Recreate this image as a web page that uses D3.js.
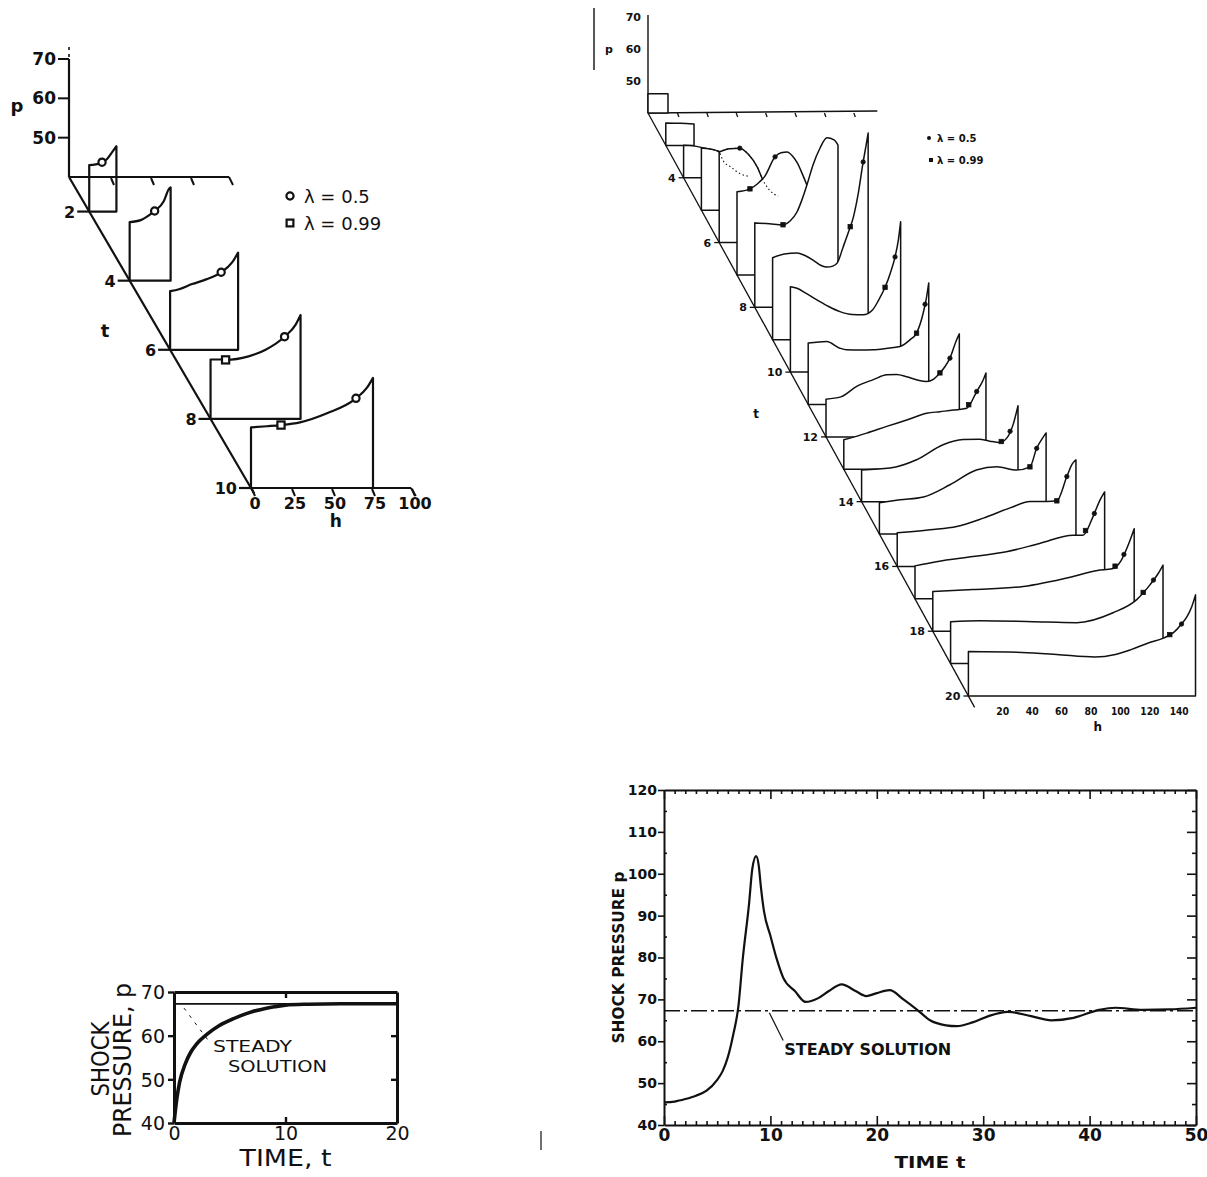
<!DOCTYPE html>
<html>
<head>
<meta charset="utf-8">
<script src="https://cdn.jsdelivr.net/npm/d3@7"></script>
<style>
	body { margin: 0; background: #fff; }
	text { font-family: "DejaVu Sans", sans-serif; fill: #111; }
</style>
</head>
<body>
<script>
// ---- panel A : stable case, profiles p(h) at t = 2..10
var tA = [2, 4, 6, 8, 10];
var profA = [
	[[0,51.8],[7,52.3],[11,53.3],[15,55.5],[17,56.6]],
	[[0,54.9],[6.9,55.4],[13.1,56.9],[15.6,57.7],[21.3,60.2],[24.4,63.2],[25.6,63.7]],
	[[0,54.9],[5.6,55.4],[13.75,56.7],[22.5,57.9],[31.9,59.7],[38.75,62.2],[42.5,64.7]],
	[[0,55.1],[6.9,55.1],[9.4,55.0],[23.75,55.9],[34.4,57.6],[46.25,60.9],[53.1,63.9],[56.25,66.4]],
	[[0,55.4],[10,55.7],[18.75,56],[30.6,56.7],[47.5,59],[65.6,62.8],[72.5,65.5],[76.25,68]]
];
var markA = [
	{t: 2, h: 8, lam: 0.5}, {t: 4, h: 15.6, lam: 0.5}, {t: 6, h: 31.9, lam: 0.5},
	{t: 8, h: 9.4, lam: 0.99}, {t: 8, h: 46.25, lam: 0.5},
	{t: 10, h: 18.75, lam: 0.99}, {t: 10, h: 65.6, lam: 0.5}
];
var pTicksA = [50, 60, 70],
	hTicksA = [0, 25, 50, 75, 100],
	hBackA = [25, 50, 75];

// ---- panel B : unstable case, profiles at t = 2..20
var tB = [2,3,4,5,6,7,8,9,10,11,12,13,14,15,16,17,18,19,20];
var profB = [
	[[0,46],[13.6,46]],
	[[0,47],[10,46.9],[19.2,46.7]],
	[[0,50.2],[6,50],[12,49.5],[18,48.8],[24.5,48.2]],
	[[0,59.4],[6,59.1],[12,58.2],[14.7,55.5],[20,53.5],[26,51.5],[33,50.5]],
	[[0,68.3],[7,69.3],[14,69.5],[20,67.5],[26,63.5],[29.8,59.5],[34,56.5],[40,54.5]],
	[[0,66],[8.8,66.9],[14,68.5],[19,70.9],[25.9,76.9],[30,78.2],[34,78.4],[38,77],[41,75],[44.5,71.5],[47.6,68]],
	[[0,66.4],[10,66.1],[19.2,65.8],[24,67],[28.7,69.8],[32,73.5],[35.5,78.3],[39.6,84.5],[44.4,89.8],[49.1,93],[53.9,92.3],[56.6,90.7]],
	[[0,65.6],[8,66.8],[16.6,67.1],[22,66.3],[27.5,64.9],[33,63.2],[37,62.7],[41,63],[44,64],[48,69],[51.5,73.5],[55,78.4],[58,85],[61.5,95.3],[63.5,100.5],[65,104.6]],
	[[0,66.7],[4.5,66.2],[11,64.5],[18,62.6],[26,60.5],[33.7,58.9],[42,58],[49.4,57.9],[56,59.5],[60,62.5],[64.4,66.5],[68,71],[71.2,76],[73.5,81.5],[75,87]],
	[[0,59.2],[12.5,59.7],[21.6,57.6],[26,57.1],[35,57],[44.3,57.1],[53,57.5],[62.4,58.1],[69.2,60.2],[73.7,62.3],[78.2,68.5],[80.5,73.5],[82,78]],
	[[0,51.8],[10,52.5],[20.9,55.8],[32.2,57.9],[41.3,59.4],[48,59.5],[54.9,58.8],[62,57.8],[68.5,57.3],[73,58],[77.5,60],[81,62],[84.3,64.6],[88.8,70.3],[90.7,72.2]],
	[[0,49.2],[15.6,51.3],[29.2,53.4],[42.8,55.4],[56.4,57.5],[65.4,58],[74.5,58.5],[83.6,59.1],[90.4,64.3],[94.9,68],[96.7,70.1]],
	[[0,49.9],[19.3,50.5],[37.4,53.1],[55.4,57.8],[69,59.4],[80,59.5],[87.2,58.9],[94,58.5],[99,60],[103,64],[106.4,70]],
	[[0,49.8],[14,50.7],[30,51.6],[48,55.4],[66,60],[80,61],[93.4,60],[102.4,61],[107,66.8],[111,70],[113.4,71.6]],
	[[0,50.5],[22.3,51.5],[40.5,52.5],[58.6,55.1],[76.8,58.3],[90.4,60.3],[101.8,60.3],[108.6,60.5],[115.4,68.1],[119,72],[121.6,73.3]],
	[[0,50.3],[14.6,51.6],[39.5,53.2],[62.1,54.7],[84.8,57.3],[107.5,59.9],[114.3,59.9],[121.1,65.7],[126,71],[129,73.4]],
	[[0,52.4],[27.4,53],[61.5,54],[95.4,57.1],[112,59],[122,59.5],[128,62],[133,67],[137,72]],
	[[0,53.1],[20,53.4],[65.4,53],[85.8,52.8],[110.5,55.9],[126.6,60],[135.6,64.6],[141,68],[144.5,70.8]],
	[[0,53.9],[36.5,53.6],[60,53],[86,52.2],[100,53],[110.6,54.5],[122,56.5],[132.7,58.1],[139.5,59.8],[145,62.5],[148.8,64.9],[152,68],[154.5,71.6]]
];
var markB = [
	{t: 6, h: 14, lam: 0.5}, {t: 7, h: 8.8, lam: 0.99}, {t: 7, h: 25.9, lam: 0.5},
	{t: 8, h: 19.2, lam: 0.99}, {t: 9, h: 52.8, lam: 0.99}, {t: 9, h: 61.6, lam: 0.5},
	{t: 10, h: 64.4, lam: 0.99}, {t: 10, h: 71.2, lam: 0.5}, {t: 11, h: 73.7, lam: 0.99}, {t: 11, h: 79.5, lam: 0.5},
	{t: 12, h: 77.5, lam: 0.99}, {t: 12, h: 84.3, lam: 0.5}, {t: 13, h: 85, lam: 0.99}, {t: 13, h: 90.4, lam: 0.5},
	{t: 14, h: 95, lam: 0.99}, {t: 14, h: 101, lam: 0.5}, {t: 15, h: 102.4, lam: 0.99}, {t: 15, h: 107, lam: 0.5},
	{t: 16, h: 108.6, lam: 0.99}, {t: 16, h: 115.4, lam: 0.5}, {t: 17, h: 116, lam: 0.99}, {t: 17, h: 122, lam: 0.5},
	{t: 18, h: 124, lam: 0.99}, {t: 18, h: 130, lam: 0.5}, {t: 19, h: 131, lam: 0.99}, {t: 19, h: 138, lam: 0.5},
	{t: 20, h: 137, lam: 0.99}, {t: 20, h: 145, lam: 0.5}
];
var dottedB = [5, 6],
	tLabB = [4, 6, 8, 10, 12, 14, 16, 18, 20],
	pTicksB = [50, 60, 70],
	hTicksB = [20, 40, 60, 80, 100, 120, 140];

// ---- panel C : shock pressure history, stable case
var tC = [0,0.25,0.5,1,1.5,2,3,4,5,6,7,8,9,10,12,15,20];
var pC = [40,45.5,49.3,53.5,56.2,58,60.4,62.2,63.5,64.6,65.5,66.1,66.6,67,67.2,67.3,67.3];

// ---- panel D : shock pressure history, unstable case
var tD = [0,1,2,3,4,5,5.5,6,6.5,7,7.4,8,8.3,8.66,8.9,9.1,9.4,10,10.6,11.2,12.3,13.3,14.5,15.5,16.7,18,19,20,21.2,22.5,23.8,25,26.5,27.5,29,30.5,32.3,34.5,36.4,38.5,40.9,42.4,45,47.5,50];
var pD = [45.4,45.6,46.2,47,48.2,50.8,52.8,56.2,61.5,68.5,79.6,93,101.2,104.2,102,97,91,85.2,79.6,75.2,72,69.4,70.3,72,73.6,72,70.8,71.5,72.2,70,67.5,65,63.8,63.6,64.5,66,67,66,65,65.6,67.5,68,67.5,67.6,68];
var steadyP = 67.3;

var svg = d3.select("body")
	.append("svg")
	.attr("width", 1207)
	.attr("height", 1177);

svg.append("rect").attr("width", 1207).attr("height", 1177).attr("fill", "#fff");

function seg(g, x1, y1, x2, y2, w) {
	return g.append("line")
		.attr("x1", x1).attr("y1", y1).attr("x2", x2).attr("y2", y2)
		.attr("stroke", "#111").attr("stroke-width", w || 1.5);
}

function label(g, x, y, s, size, anchor, weight) {
	return g.append("text")
		.attr("x", x).attr("y", y)
		.attr("font-size", size)
		.attr("font-weight", weight || "bold")
		.attr("text-anchor", anchor || "middle")
		.text(s);
}

// polygon of one slice: left wall, profile curve, shock wall, baseline
function slicePath(x0, y0, pr, hs, ps) {
	var pts = pr.map(function(d) { return [x0 + hs(d[0]), y0 + ps(d[1])]; });
	var c = d3.line().curve(d3.curveMonotoneX)(pts);
	var last = pts[pts.length - 1];
	return "M" + x0 + "," + y0 + "L" + c.slice(1) + "L" + last[0] + "," + y0 + "Z";
}

function profLine(x0, y0, pr, hs, ps) {
	return d3.line().curve(d3.curveMonotoneX)(pr.map(function(d) { return [x0 + hs(d[0]), y0 + ps(d[1])]; }));
}

function pAt(pr, h) {
	return d3.scaleLinear().domain(pr.map(function(d) { return d[0]; })).range(pr.map(function(d) { return d[1]; }))(h);
}

function marker(g, x, y, lam, r, fill, sw) {
	if (lam == 0.5) {
		g.append("circle").attr("cx", x).attr("cy", y).attr("r", r)
			.attr("fill", fill).attr("stroke", "#111").attr("stroke-width", sw);
	} else {
		g.append("rect").attr("x", x - r).attr("y", y - r).attr("width", 2 * r).attr("height", 2 * r)
			.attr("fill", fill).attr("stroke", "#111").attr("stroke-width", sw);
	}
}

/* ================= panel A ================= */
var gA = svg.append("g").attr("class", "stable-waterfall");

var txA = d3.scaleLinear().domain([1, 10]).range([69, 251]),
	tyA = d3.scaleLinear().domain([1, 10]).range([177, 488]),
	hA = d3.scaleLinear().domain([0, 100]).range([0, 160]),
	pA = d3.scaleLinear().domain([40, 70]).range([0, -118]);

var oxA = txA(1), oyA = tyA(1);

// p axis
seg(gA, oxA, oyA, oxA, oyA + pA(70), 2.2);
seg(gA, oxA, oyA + pA(70.5), oxA, oyA + pA(73.5), 1.6).attr("stroke-dasharray", "3,4");
pTicksA.forEach(function(v) {
	seg(gA, oxA - 11, oyA + pA(v), oxA, oyA + pA(v), 2);
	label(gA, oxA - 13, oyA + pA(v) + 6, v, 17, "end");
});
label(gA, 17, oyA + pA(58) + 6, "p", 18);

// back h axis
seg(gA, oxA, oyA, oxA + hA(100), oyA, 2.2);
seg(gA, oxA + hA(100), oyA, oxA + hA(102.5), oyA + 8, 2);
hBackA.forEach(function(v) {
	seg(gA, oxA + hA(v) + 2, oyA + 1, oxA + hA(v) + 5, oyA + 8, 2);
});

// diagonal t axis
seg(gA, oxA, oyA, txA(10.15), tyA(10.15), 2.2);
tA.forEach(function(t) {
	seg(gA, txA(t) - 12, tyA(t), txA(t), tyA(t), 2.2);
	label(gA, txA(t) - 14, tyA(t) + 6, t, 16, "end");
});
label(gA, 105, 337, "t", 18);

// front h axis at t = 10
var fxA = txA(10), fyA = tyA(10);
seg(gA, fxA, fyA, fxA + hA(100), fyA, 2.2);
seg(gA, fxA + hA(100), fyA, fxA + hA(103), fyA + 8, 2);
hTicksA.forEach(function(v) {
	seg(gA, fxA + hA(v) + 1, fyA + 1, fxA + hA(v) + 4, fyA + 8, 2);
	label(gA, fxA + hA(v) + 4, fyA + 21, v, 16);
});
label(gA, fxA + hA(53), fyA + 39, "h", 17);

// slices
tA.forEach(function(t, i) {
	gA.append("path")
		.attr("d", slicePath(txA(t), tyA(t), profA[i], hA, pA))
		.attr("fill", "none")
		.attr("stroke", "#111")
		.attr("stroke-width", 2.2)
		.attr("stroke-linejoin", "round");
});
markA.forEach(function(m) {
	var pr = profA[tA.indexOf(m.t)];
	marker(gA, txA(m.t) + hA(m.h), tyA(m.t) + pA(pAt(pr, m.h)), m.lam, 3.6, "#fff", 2.2);
});

// legend
marker(gA, 290, 196, 0.5, 3.6, "#fff", 2.2);
label(gA, 304, 203, "λ = 0.5", 18, "start", "normal");
marker(gA, 290, 223, 0.99, 3.4, "#fff", 2.2);
label(gA, 304, 230, "λ = 0.99", 18, "start", "normal");

/* ================= panel B ================= */
var gB = svg.append("g").attr("class", "unstable-waterfall");

var txB = d3.scaleLinear().domain([2, 20]).range([648, 968.4]),
	tyB = d3.scaleLinear().domain([2, 20]).range([113, 696]),
	hB = d3.scaleLinear().domain([0, 100]).range([0, 147]),
	pB = d3.scaleLinear().domain([40, 70]).range([0, -96]);

var oxB = txB(2), oyB = tyB(2);

// scan edge on the left of the panel
seg(gB, 594, 8, 594, 70, 1.4);

seg(gB, oxB, oyB, oxB, oyB + pB(70.6), 1.4);
pTicksB.forEach(function(v) {
	label(gB, oxB - 7, oyB + pB(v) + 4, v, 11, "end");
});
label(gB, 609, oyB + pB(60) + 4, "p", 11);

seg(gB, oxB, oyB, oxB + hB(156), oyB - 2, 1.6);
hTicksB.forEach(function(v) {
	seg(gB, oxB + hB(v), oyB, oxB + hB(v) + 1.5, oyB + 4, 1.3);
});

tB.forEach(function(t, i) {
	var x0 = txB(t), y0 = tyB(t), pr = profB[i];
	gB.append("path")
		.attr("d", slicePath(x0, y0, pr, hB, pB))
		.attr("fill", "#fff")
		.attr("stroke", "#111")
		.attr("stroke-width", 1.5)
		.attr("stroke-linejoin", "round");
	markB.filter(function(m) { return m.t == t; }).forEach(function(m) {
		marker(gB, x0 + hB(m.h), y0 + pB(pAt(pr, m.h)), m.lam, 2.2, "#111", 0.8);
	});
});

// hidden parts of the t = 5, 6 profiles, dotted
dottedB.forEach(function(t) {
	var i = tB.indexOf(t);
	gB.append("path")
		.attr("d", profLine(txB(t), tyB(t), profB[i], hB, pB))
		.attr("fill", "none")
		.attr("stroke", "#111")
		.attr("stroke-width", 1.1)
		.attr("stroke-dasharray", "1.5,2.5");
});

seg(gB, oxB, oyB, txB(20.35), tyB(20.35), 1.3);
tLabB.forEach(function(t) {
	seg(gB, txB(t) - 5, tyB(t), txB(t), tyB(t), 1.3);
	label(gB, txB(t) - 8, tyB(t) + 4, t, 11, "end");
});
label(gB, 756, 418, "t", 12);

var fxB = txB(20), fyB = tyB(20);
hTicksB.forEach(function(v) {
	label(gB, fxB + hB(v) + 5, fyB + 19, v, 11).attr("textLength", v < 100 ? 13 : 19).attr("lengthAdjust", "spacingAndGlyphs");
});
label(gB, fxB + hB(88), fyB + 35, "h", 12);

gB.append("circle").attr("cx", 929).attr("cy", 138).attr("r", 2).attr("fill", "#111");
label(gB, 937, 142, "λ = 0.5", 10, "start");
gB.append("rect").attr("x", 929).attr("y", 158).attr("width", 4).attr("height", 4).attr("fill", "#111");
label(gB, 937, 164, "λ = 0.99", 10, "start");

/* ================= panel C ================= */
var gC = svg.append("g").attr("class", "history-stable");

var xC = d3.scaleLinear().domain([0, 20]).range([174, 397]),
	yC = d3.scaleLinear().domain([40, 70]).range([1123, 992]);

function plain(g, w) {
	g.selectAll("path.domain").attr("stroke", "#111").attr("stroke-width", w);
	g.selectAll(".tick line").attr("stroke", "#111").attr("stroke-width", w * 0.8);
	g.selectAll("text").attr("fill", "#111").attr("font-family", "DejaVu Sans, sans-serif");
}

gC.append("g")
	.attr("transform", "translate(0," + yC(40) + ")")
	.call(d3.axisBottom(xC).tickValues([0, 10, 20]).tickSizeInner(-6).tickSizeOuter(0).tickPadding(3))
	.call(plain, 3)
	.selectAll("text").attr("font-size", 19);
gC.append("g")
	.attr("transform", "translate(0," + yC(70) + ")")
	.call(d3.axisTop(xC).tickValues([10]).tickSizeInner(-6).tickSizeOuter(0).tickFormat(""))
	.call(plain, 3);
gC.append("g")
	.attr("transform", "translate(" + xC(0) + ",0)")
	.call(d3.axisLeft(yC).tickValues([40, 50, 60, 70]).tickSizeInner(6).tickSizeOuter(0).tickPadding(3))
	.call(plain, 3)
	.selectAll("text").attr("font-size", 19).attr("dy", "0.36em");
gC.append("g")
	.attr("transform", "translate(" + xC(20) + ",0)")
	.call(d3.axisRight(yC).tickValues([50, 60]).tickSizeInner(-6).tickSizeOuter(0).tickFormat(""))
	.call(plain, 3);

seg(gC, xC(0), yC(steadyP), xC(20), yC(steadyP), 1.8);
gC.append("path")
	.datum(d3.zip(tC, pC))
	.attr("d", d3.line().curve(d3.curveMonotoneX).x(function(d) { return xC(d[0]); }).y(function(d) { return yC(d[1]); }))
	.attr("fill", "none")
	.attr("stroke", "#111")
	.attr("stroke-width", 3.6);

seg(gC, xC(0.9), yC(66.3), xC(3.1), yC(58.8), 1).attr("stroke-dasharray", "3,6");
label(gC, 213, 1052, "STEADY", 16, "start", "normal").attr("textLength", 79).attr("lengthAdjust", "spacingAndGlyphs");
label(gC, 228, 1072, "SOLUTION", 16, "start", "normal").attr("textLength", 99).attr("lengthAdjust", "spacingAndGlyphs");
label(gC, (xC(0) + xC(20)) / 2, 1166, "TIME, t", 23, "middle", "normal").attr("textLength", 92).attr("lengthAdjust", "spacingAndGlyphs");
label(gC, 0, 0, "SHOCK", 25, "middle", "normal")
	.attr("transform", "translate(109,1059) rotate(-90)")
	.attr("textLength", 75).attr("lengthAdjust", "spacingAndGlyphs");
label(gC, 0, 0, "PRESSURE, p", 25, "middle", "normal")
	.attr("transform", "translate(131,1060) rotate(-90)")
	.attr("textLength", 154).attr("lengthAdjust", "spacingAndGlyphs");

seg(svg, 541, 1131, 541, 1150, 1.2);

/* ================= panel D ================= */
var gD = svg.append("g").attr("class", "history-unstable");

var xD = d3.scaleLinear().domain([0, 50]).range([664, 1196]),
	yD = d3.scaleLinear().domain([40, 120]).range([1125, 790]);

var minorT = d3.range(0, 51, 1),
	minorP = d3.range(40, 121, 5);

var axB = gD.append("g")
	.attr("transform", "translate(0," + yD(40) + ")")
	.call(d3.axisBottom(xD).tickValues(minorT).tickSizeInner(-4).tickSizeOuter(0).tickPadding(4)
		.tickFormat(function(d) { return d % 10 ? "" : d; }))
	.call(plain, 2);
axB.selectAll(".tick line").attr("y2", function(d) { return d % 10 ? -4 : -9; });
axB.selectAll("text").attr("font-size", 17).attr("font-weight", "bold");

var axT = gD.append("g")
	.attr("transform", "translate(0," + yD(120) + ")")
	.call(d3.axisTop(xD).tickValues(minorT).tickSizeInner(-4).tickSizeOuter(0).tickFormat(""))
	.call(plain, 2);
axT.selectAll(".tick line").attr("y2", function(d) { return d % 10 ? 4 : 9; });

var axL = gD.append("g")
	.attr("transform", "translate(" + xD(0) + ",0)")
	.call(d3.axisLeft(yD).tickValues(minorP).tickSizeInner(6).tickSizeOuter(0)
		.tickFormat(function(d) { return d % 10 ? "" : d; }))
	.call(plain, 2);
axL.selectAll(".tick line").attr("x2", function(d) { return d % 10 ? 3 : -6; });
axL.selectAll("text").attr("x", -7).attr("font-size", 14).attr("font-weight", "bold");

var axR = gD.append("g")
	.attr("transform", "translate(" + xD(50) + ",0)")
	.call(d3.axisRight(yD).tickValues(minorP).tickSizeInner(-9).tickSizeOuter(0).tickFormat(""))
	.call(plain, 2);
axR.selectAll(".tick line").attr("x2", function(d) { return d % 10 ? -4 : -9; });

seg(gD, xD(0), yD(steadyP), xD(50), yD(steadyP), 1.5).attr("stroke-dasharray", "16,4,3,4");
gD.append("path")
	.datum(d3.zip(tD, pD))
	.attr("d", d3.line().curve(d3.curveMonotoneX).x(function(d) { return xD(d[0]); }).y(function(d) { return yD(d[1]); }))
	.attr("fill", "none")
	.attr("stroke", "#111")
	.attr("stroke-width", 2.2);

seg(gD, xD(9.9), yD(66.8), xD(11.2), yD(60.2), 1.2);
label(gD, xD(11.3), 1055, "STEADY  SOLUTION", 15, "start").attr("textLength", 167).attr("lengthAdjust", "spacingAndGlyphs");
label(gD, (xD(0) + xD(50)) / 2, 1168, "TIME  t", 15).attr("textLength", 71).attr("lengthAdjust", "spacingAndGlyphs");
label(gD, 0, 0, "SHOCK PRESSURE  p", 16)
	.attr("transform", "translate(624," + (yD(40) + yD(120)) / 2 + ") rotate(-90)")
	.attr("textLength", 172).attr("lengthAdjust", "spacingAndGlyphs");
</script>
</body>
</html>
